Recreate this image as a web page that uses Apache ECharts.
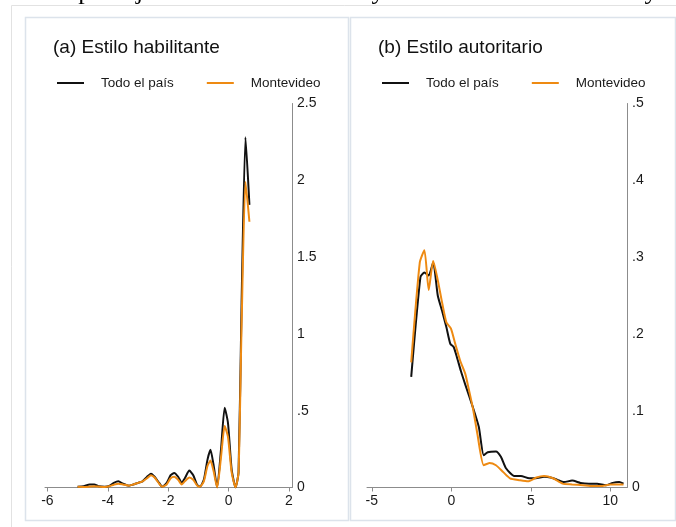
<!DOCTYPE html>
<html><head><meta charset="utf-8">
<script src="https://cdn.jsdelivr.net/npm/echarts@6/dist/echarts.min.js"></script>
<style>html,body{margin:0;padding:0;background:#fff}#c{width:676px;height:527px}</style>
</head><body><div id="c"></div>
<script>
// Panel (a) Estilo habilitante
const xA = [-5.0,-4.8,-4.6,-4.45,-4.3,-4.1,-3.95,-3.8,-3.65,-3.5,-3.3,-3.15,-3.0,-2.85,-2.7,-2.57,-2.45,-2.3,-2.2,-2.05,-1.92,-1.8,-1.67,-1.55,-1.45,-1.3,-1.17,-1.05,-0.95,-0.82,-0.7,-0.6,-0.5,-0.38,-0.25,-0.13,-0.02,0.1,0.23,0.33,0.43,0.56,0.69];
const todoA = [0.005,0.008,0.02,0.02,0.008,0.005,0.01,0.03,0.04,0.025,0.012,0.02,0.03,0.04,0.07,0.09,0.07,0.03,0.005,0.03,0.08,0.095,0.07,0.03,0.06,0.11,0.08,0.02,0.005,0.05,0.18,0.245,0.15,0.0,0.25,0.52,0.42,0.12,0.0,0.1,1.2,2.28,1.84];
const mvdA  = [0.005,0.004,0.006,0.008,0.006,0.004,0.008,0.018,0.025,0.02,0.012,0.02,0.03,0.04,0.06,0.08,0.065,0.025,0.005,0.02,0.06,0.07,0.05,0.02,0.04,0.065,0.05,0.015,0.005,0.04,0.14,0.175,0.11,0.0,0.2,0.40,0.33,0.1,0.0,0.1,1.05,1.99,1.73];
// Panel (b) Estilo autoritario
const xBtodo = [-2.52,-1.94,-1.69,-1.42,-1.14,-0.85,-0.58,-0.31,-0.06,0.15,0.35,0.6,0.88,1.35,1.73,2.04,2.29,2.81,3.12,3.44,3.96,4.38,4.9,5.31,5.83,6.25,6.67,7.08,7.6,8.13,8.65,9.17,9.73,10.15,10.56,10.83];
const todoB  = [0.144,0.274,0.280,0.276,0.293,0.25,0.23,0.209,0.187,0.183,0.17,0.152,0.134,0.105,0.079,0.042,0.046,0.047,0.04,0.025,0.015,0.015,0.012,0.012,0.014,0.013,0.01,0.007,0.009,0.006,0.005,0.005,0.003,0.006,0.007,0.005];
const xBmvd  = [-2.52,-1.98,-1.69,-1.42,-1.14,-0.85,-0.58,-0.31,-0.02,0.25,0.56,0.88,1.08,1.39,1.64,2.04,2.4,2.81,3.27,3.69,4.31,4.83,5.35,5.83,6.4,7.0,7.6,8.27,8.9,9.5,10.0,10.83];
const mvdB   = [0.163,0.293,0.309,0.257,0.295,0.27,0.241,0.215,0.207,0.187,0.165,0.148,0.13,0.1,0.07,0.029,0.032,0.029,0.02,0.012,0.0095,0.008,0.013,0.015,0.012,0.005,0.004,0.003,0.002,0.002,0.004,0.004];
const ticksXA = [-6,-4,-2,0,2];
const ticksXB = [-5,0,5,10];
const titles = ['(a) Estilo habilitante','(b) Estilo autoritario'];
const names = ['Todo el país','Montevideo'];
const topText = 'ción de puntaje de estilo habilitante y autoritario. Montevideo y el país';

const zip = (xs, ys) => xs.map((x,i)=>[x, ys[i]]);
const FONT = 'Liberation Sans, Arial, sans-serif';
const BLACK = '#111111', ORANGE = '#ee8a12';
const fmtY = v => { if (v === 0) return '0'; const s = (Math.round(v*10)/10).toString(); return s.startsWith('0.') ? s.slice(1) : s; };

function xAxisCfg(grid, min, max, ticks){
  return {type:'value', gridIndex:grid, min, max,
    axisLine:{show:true, onZero:false, lineStyle:{color:'#8c8c8c', width:1}},
    axisTick:{show:true, length:4, lineStyle:{color:'#8c8c8c'}, customValues:ticks},
    axisLabel:{customValues:ticks, color:'#1a1a1a', fontSize:14, fontFamily:FONT, margin:7},
    splitLine:{show:false}};
}
function yAxisCfg(grid, max, interval){
  return {type:'value', gridIndex:grid, position:'right', min:0, max, interval,
    axisLine:{show:true, onZero:false, lineStyle:{color:'#8c8c8c', width:1}}, axisTick:{show:false},
    axisLabel:{formatter:fmtY, color:'#1a1a1a', fontSize:14, fontFamily:FONT, margin:5},
    splitLine:{show:false}};
}
function lineSeries(name, xi, data, color){
  return {type:'line', name, xAxisIndex:xi, yAxisIndex:xi, data, symbol:'none', smooth:0.2,
    lineStyle:{color, width:2}, itemStyle:{color}, z: color===ORANGE?3:2};
}
function legendCfg(left){
  return {left, top:76, padding:0, itemWidth:27, itemHeight:2, icon:'rect', itemGap:33,
    data:names, selectedMode:false,
    textStyle:{fontSize:13.5, fontFamily:FONT, color:'#1a1a1a', padding:[0,0,0,12]}};
}

const chart = echarts.init(document.getElementById('c'), null, {renderer:'canvas'});
chart.setOption({
  animation:false,
  backgroundColor:'#ffffff',
  title:[
    {text:titles[0], left:53, top:38, padding:0, textStyle:{fontSize:19, fontWeight:'normal', color:'#111', fontFamily:FONT}},
    {text:titles[1], left:378, top:38, padding:0, textStyle:{fontSize:19, fontWeight:'normal', color:'#111', fontFamily:FONT}}
  ],
  legend:[legendCfg(57), legendCfg(382)],
  grid:[
    {left:45, top:103.5, width:247, height:384},
    {left:367, top:103.5, width:260, height:384}
  ],
  xAxis:[xAxisCfg(0,-6.08,2.1,ticksXA), xAxisCfg(1,-5.3,11.05,ticksXB)],
  yAxis:[yAxisCfg(0,2.5,0.5), yAxisCfg(1,0.5,0.1)],
  series:[
    lineSeries(names[0],0,zip(xA,todoA),BLACK),
    lineSeries(names[1],0,zip(xA,mvdA),ORANGE),
    lineSeries(names[0],1,zip(xBtodo,todoB),BLACK),
    lineSeries(names[1],1,zip(xBmvd,mvdB),ORANGE)
  ],
  graphic:[
    {type:'rect', shape:{x:11.5,y:5.5,width:700,height:600}, style:{fill:null, stroke:'#e2e2e2', lineWidth:1}, silent:true, z:-10},
    {type:'rect', shape:{x:25.5,y:17.5,width:323,height:503}, style:{fill:null, stroke:'#dce3eb', lineWidth:1.5}, silent:true, z:-10},
    {type:'rect', shape:{x:350.5,y:17.5,width:325,height:503}, style:{fill:null, stroke:'#dce3eb', lineWidth:1.5}, silent:true, z:-10},
    {type:'text', x:-4, y:5, style:{text:topText, font:'26px "Liberation Serif", serif', fill:'#000', verticalAlign:'bottom'}, silent:true}
  ]
});
</script></body></html>
